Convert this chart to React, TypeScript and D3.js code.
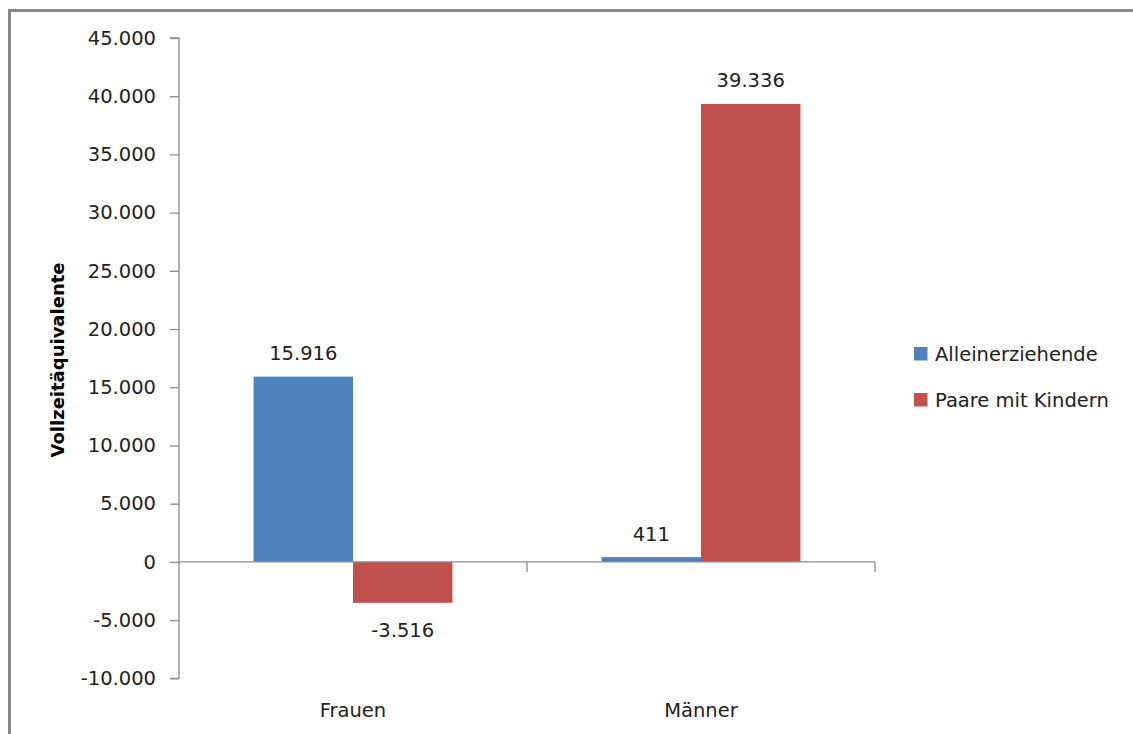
// @ts-nocheck
import React, { useEffect, useRef } from 'react'
import * as d3 from 'd3'

const categories = ['Frauen', 'Männer']
const series = ['Alleinerziehende', 'Paare mit Kindern']
const alleinerziehende = [15916, 411]
const paareMitKindern = [-3516, 39336]
const yTicks = [-10000, -5000, 0, 5000, 10000, 15000, 20000, 25000, 30000, 35000, 40000, 45000]
const colors = ['#4F81BD', '#C0504D']
const yTitle = 'Vollzeitäquivalente'

const FONT = '"DejaVu Sans", sans-serif'

export const App: React.FC = () => {
    const ref = useRef(null)

    useEffect(() => {
        const width = 1133,
            height = 734,
            left = 179,
            right = 875,
            top = 38,
            bottom = 678.3

        const svg = d3.select(ref.current)
        svg.selectAll('*').remove()

        const fmt = (v: number) => v.toLocaleString('de-DE')

        // scales
        const y = d3.scaleLinear([yTicks[0], yTicks[yTicks.length - 1]], [bottom, top])
        const x0 = d3.scaleBand(categories, [left, right]).paddingInner(0).paddingOuter(0)
        const x1 = d3.scaleBand(series, [0, x0.bandwidth()]).paddingInner(0).paddingOuter(0.75)

        const rows = categories.map((c, i) => ({
            cat: c,
            vals: [alleinerziehende[i], paareMitKindern[i]]
        }))

        // outer frame
        svg.append('rect')
            .attr('x', 9.5).attr('y', 10.5)
            .attr('width', width + 20).attr('height', height + 20)
            .attr('fill', 'none')
            .attr('stroke', '#888')
            .attr('stroke-width', 3)

        // y axis
        const yAxis = svg.append('g')
            .attr('transform', `translate(${left}, 0)`)
            .call(d3.axisLeft(y).tickValues(yTicks).tickFormat(fmt).tickSize(9).tickPadding(14))
        yAxis.selectAll('path, line').attr('stroke', '#8c8c8c').attr('stroke-width', 1.3)
        yAxis.select('.domain').attr('d', `M-9,${y(yTicks[yTicks.length - 1])}H0V${y(yTicks[0])}H-9`)
        yAxis.selectAll('text')
            .attr('font-family', FONT)
            .attr('font-size', 19.5)
            .attr('fill', '#222')

        // bars
        const g = svg.append('g')
        rows.forEach(r => {
            r.vals.forEach((v, j) => {
                const bx = x0(r.cat) + x1(series[j])
                g.append('rect')
                    .attr('x', bx)
                    .attr('width', x1.bandwidth())
                    .attr('y', Math.min(y(v), y(0)))
                    .attr('height', Math.abs(y(v) - y(0)))
                    .attr('fill', colors[j])

                // data label
                g.append('text')
                    .attr('x', bx + x1.bandwidth() / 2)
                    .attr('y', v >= 0 ? y(v) - 16.5 : y(v) + 34)
                    .attr('text-anchor', 'middle')
                    .attr('font-family', FONT)
                    .attr('font-size', 19.5)
                    .attr('fill', '#222')
                    .text(fmt(v))
            })
        })

        // x axis along zero
        const xAxis = svg.append('g')
        xAxis.append('line')
            .attr('x1', left).attr('x2', right)
            .attr('y1', y(0)).attr('y2', y(0))
            .attr('stroke', '#8c8c8c').attr('stroke-width', 1.3)
        categories.forEach(c => {
            xAxis.append('line')
                .attr('x1', x0(c) + x0.bandwidth()).attr('x2', x0(c) + x0.bandwidth())
                .attr('y1', y(0)).attr('y2', y(0) + 10)
                .attr('stroke', '#8c8c8c').attr('stroke-width', 1.3)
            xAxis.append('text')
                .attr('x', x0(c) + x0.bandwidth() / 2)
                .attr('y', 717)
                .attr('text-anchor', 'middle')
                .attr('font-family', FONT)
                .attr('font-size', 19.5)
                .attr('fill', '#222')
                .text(c)
        })

        // y title
        svg.append('text')
            .attr('transform', 'translate(64, 360) rotate(-90)')
            .attr('text-anchor', 'middle')
            .attr('font-family', FONT)
            .attr('font-weight', 'bold')
            .attr('font-size', 18)
            .attr('fill', '#000')
            .text(yTitle)

        // legend
        const legend = svg.append('g').attr('transform', 'translate(914, 347)')
        series.forEach((s, i) => {
            legend.append('rect')
                .attr('x', 0).attr('y', i * 46)
                .attr('width', 13.5).attr('height', 13.5)
                .attr('fill', colors[i])
            legend.append('text')
                .attr('x', 21).attr('y', i * 46 + 13.5)
                .attr('font-family', FONT)
                .attr('font-size', 19.5)
                .attr('fill', '#222')
                .text(s)
        })
    }, [])

    return <svg ref={ref} width="1133" height="734"
        style={{ position: 'absolute', left: 0, top: 0, background: '#fff' }}></svg>
}

export default App
